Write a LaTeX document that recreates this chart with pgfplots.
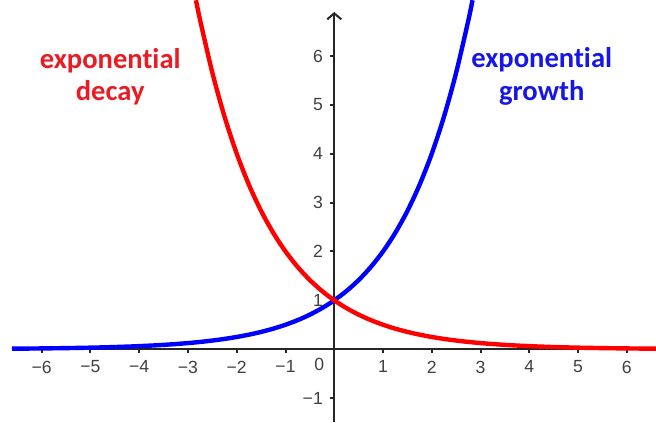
\documentclass[border=0pt]{standalone}
\usepackage{fontspec}
\setmainfont{Liberation Sans}
\newfontfamily\labelfont[Ligatures=NoCommon]{Carlito}
\usepackage{pgfplots}
\pgfplotsset{compat=1.18}
\usetikzlibrary{arrows.meta}

\definecolor{ggred}{RGB}{255,0,0}
\definecolor{ggblue}{RGB}{0,0,255}
\definecolor{txtred}{RGB}{232,28,36}
\definecolor{txtblue}{RGB}{22,22,232}

\begin{document}
\begin{tikzpicture}
\begin{axis}[
    at={(6pt,0pt)}, anchor=south west,
    scale only axis,
    width=322pt, height=205pt,
    xmin=-6.61, xmax=6.6,
    ymin=-1.49, ymax=6.9,
    axis lines=middle,
    axis line style={-, line width=1pt, black!85},
    y axis line style={-{Straight Barb[length=3pt,width=7pt,line width=1pt]}},
    clip=false,
    xtick={-6,-5,-4,-3,-2,-1,1,2,3,4,5,6},
    xticklabels={−6,−5,−4,−3,−2,−1,1,2,3,4,5,6},
    ytick={-1,1,2,3,4,5,6},
    yticklabels={−1,1,2,3,4,5,6},
    tick align=outside,
    major tick length=2pt,
    tick style={line width=1pt, black!85},
    ticklabel style={font=\fontsize{8.8}{10}\selectfont, text=black!75},
    xticklabel style={yshift=-0.3pt},
    yticklabel style={xshift=-0.2pt},
]
\addplot[ggblue, line width=2.2pt, smooth] coordinates {
(-6.61,0.01024) (-6.5,0.01105) (-6.25,0.01314) (-6,0.01563) (-5.75,0.01858)
(-5.5,0.02210) (-5.25,0.02628) (-5,0.03125) (-4.75,0.03716) (-4.5,0.04419)
(-4.25,0.05256) (-4,0.0625) (-3.75,0.07433) (-3.5,0.08839) (-3.25,0.10511)
(-3,0.125) (-2.75,0.14865) (-2.5,0.17678) (-2.25,0.21022) (-2,0.25)
(-1.75,0.29730) (-1.5,0.35355) (-1.25,0.42045) (-1,0.5) (-0.75,0.59460)
(-0.5,0.70711) (-0.25,0.84090) (0,1) (0.25,1.18921) (0.5,1.41421)
(0.75,1.68179) (1,2) (1.25,2.37841) (1.5,2.82843) (1.75,3.36359)
(2,4) (2.25,4.75683) (2.5,5.65685) (2.75,6.72717) (2.836,7.141)
};
\addplot[ggred, line width=2.2pt, smooth] coordinates {
(-2.836,7.141) (-2.75,6.72717) (-2.5,5.65685) (-2.25,4.75683) (-2,4)
(-1.75,3.36359) (-1.5,2.82843) (-1.25,2.37841) (-1,2) (-0.75,1.68179)
(-0.5,1.41421) (-0.25,1.18921) (0,1) (0.25,0.84090) (0.5,0.70711)
(0.75,0.59460) (1,0.5) (1.25,0.42045) (1.5,0.35355) (1.75,0.29730)
(2,0.25) (2.25,0.21022) (2.5,0.17678) (2.75,0.14865) (3,0.125)
(3.25,0.10511) (3.5,0.08839) (3.75,0.07433) (4,0.0625) (4.25,0.05256)
(4.5,0.04419) (4.75,0.03716) (5,0.03125) (5.25,0.02628) (5.5,0.02210)
(5.75,0.01858) (6,0.01563) (6.25,0.01314) (6.5,0.01105) (6.6,0.01031)
};
\node[font=\fontsize{8.8}{10}\selectfont, text=black!75] at (axis cs:-0.31,-0.32) {0};
\node[anchor=base, font=\labelfont\bfseries\fontsize{14.3}{16}\selectfont, text=txtred, inner sep=0pt] at (axis cs:-4.595,5.753) {exponential};
\node[anchor=base, font=\labelfont\bfseries\fontsize{14.3}{16}\selectfont, text=txtred, inner sep=0pt] at (axis cs:-4.595,5.098) {decay};
\node[anchor=base, font=\labelfont\bfseries\fontsize{14.3}{16}\selectfont, text=txtblue, inner sep=0pt] at (axis cs:4.256,5.773) {exponential};
\node[anchor=base, font=\labelfont\bfseries\fontsize{14.3}{16}\selectfont, text=txtblue, inner sep=0pt] at (axis cs:4.256,5.098) {growth};
\end{axis}
\pgfresetboundingbox
\path (0,0) rectangle (328pt,211pt);
\end{tikzpicture}
\end{document}
